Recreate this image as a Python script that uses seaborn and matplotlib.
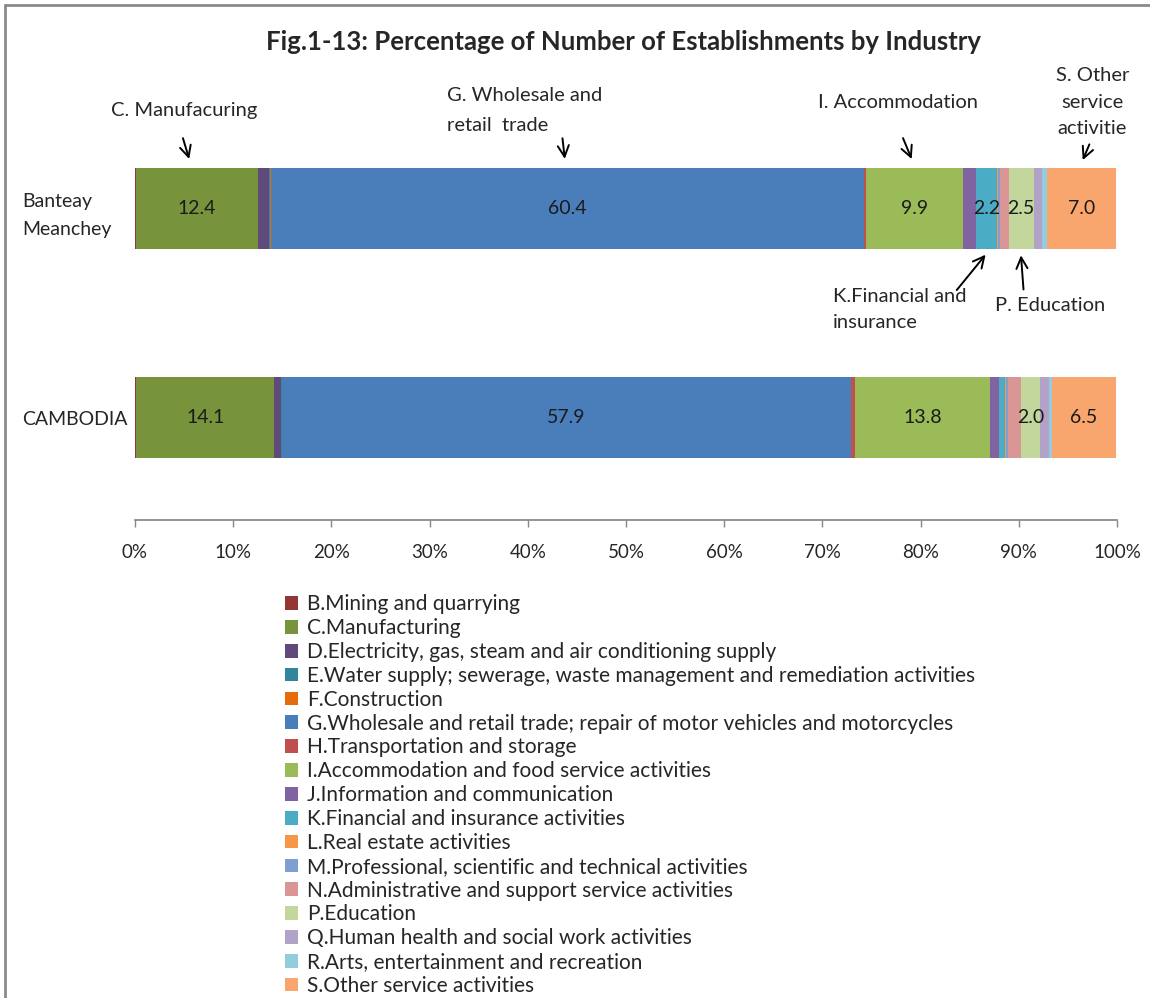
import matplotlib
matplotlib.use("Agg")
import matplotlib.pyplot as plt
import numpy as np
import seaborn as sns
from matplotlib.lines import Line2D

# data (percent of establishments)
regions = ["Banteay\nMeanchey", "CAMBODIA"]
industries = [
    "B.Mining and quarrying",
    "C.Manufacturing",
    "D.Electricity, gas, steam and air conditioning supply",
    "E.Water supply; sewerage, waste management and remediation activities",
    "F.Construction",
    "G.Wholesale and retail trade; repair of motor vehicles and motorcycles",
    "H.Transportation and storage",
    "I.Accommodation and food service activities",
    "J.Information and communication",
    "K.Financial and insurance activities",
    "L.Real estate activities",
    "M.Professional, scientific and technical activities",
    "N.Administrative and support service activities",
    "P.Education",
    "Q.Human health and social work activities",
    "R.Arts, entertainment and recreation",
    "S.Other service activities",
]
banteay = [0.1, 12.4, 1.1, 0.1, 0.1, 60.4, 0.2, 9.9, 1.3, 2.2, 0.1, 0.2, 0.9, 2.5, 0.9, 0.5, 7.0]
cambodia = [0.1, 14.1, 0.7, 0.05, 0.05, 57.9, 0.4, 13.8, 0.9, 0.6, 0.05, 0.25, 1.3, 2.0, 0.9, 0.3, 6.5]
# which segments carry a value label
shown = ["C", "G", "I", "K", "P", "S"]
shown_cambodia = ["C", "G", "I", "P", "S"]

colors = ["#943634", "#77933C", "#604A7B", "#31859C", "#E46C0A", "#4A7EBB",
          "#C0504D", "#9BBB59", "#8064A2", "#4BACC6", "#F79646", "#7F9ED2",
          "#D99694", "#C3D69B", "#B3A2C7", "#93CDDD", "#F9A66E"]

sns.set_theme(style="white")
plt.rcParams["font.family"] = ["Lato", "DejaVu Sans"]

fig = plt.figure(figsize=(11.5, 9.98), dpi=100)
ax = fig.add_axes([135 / 1150, 1 - 520 / 998, 982 / 1150, 420 / 998])

values = np.array([banteay, cambodia])
ypos = np.arange(len(regions))
left = np.zeros(len(regions))
for i, name in enumerate(industries):
    bars = ax.barh(ypos, values[:, i], left=left, height=0.39,
                   color=colors[i], label=name, linewidth=0)
    code = name[0]
    labels = [f"{values[0, i]:.1f}" if code in shown else "",
              f"{values[1, i]:.1f}" if code in shown_cambodia else ""]
    ax.bar_label(bars, labels=labels, label_type="center", fontsize=14,
                 color="#1a1a1a")
    left += values[:, i]

ax.set_xlim(0, 100)
ax.set_ylim(1.49, -0.52)
ax.set_xticks(np.arange(0, 101, 10))
ax.set_xticklabels([f"{t}%" for t in range(0, 101, 10)], fontsize=13.5)
ax.set_yticks(ypos)
ax.set_yticklabels(regions, fontsize=14)
for lab in ax.get_yticklabels():
    lab.set_horizontalalignment("left")
    lab.set_linespacing(1.75)
ax.tick_params(axis="y", length=0, pad=81)
ax.tick_params(axis="x", length=5, width=1, color="#868686", direction="out",
               bottom=True, pad=12)
sns.despine(ax=ax, left=True, top=True, right=True)
ax.spines["bottom"].set_color("#868686")

fig.suptitle("Fig.1-13: Percentage of Number of Establishments by Industry",
             x=0.542, y=0.97, fontsize=18.5, fontweight="bold")

arrow = dict(arrowstyle="->", color="black", lw=1.4, mutation_scale=20)
txt = dict(fontsize=14.5, va="center", annotation_clip=False)
ax.annotate("C. Manufacuring", xy=(5.0, -0.47), ha="center", **txt)
ax.annotate("G. Wholesale and\nretail  trade", xy=(31.8, -0.47), ha="left",
            linespacing=1.9, **txt)
ax.annotate("I. Accommodation", xy=(77.7, -0.51), ha="center", **txt)
ax.annotate("S. Other\nservice\nactivitie", xy=(97.5, -0.51), ha="center",
            linespacing=1.65, **txt)
ax.annotate("K.Financial and\ninsurance", xy=(71.1, 0.483), ha="left",
            linespacing=1.6, **txt)
ax.annotate("P. Education", xy=(87.6, 0.465), ha="left", **txt)

# arrows: (tail x, tail y) -> (head x, head y)
arrows = [((4.8, -0.35), (5.6, -0.225)),
          ((43.5, -0.35), (43.8, -0.225)),
          ((78.1, -0.35), (79.2, -0.225)),
          ((97.3, -0.32), (96.4, -0.22)),
          ((83.5, 0.40), (86.8, 0.21)),
          ((90.5, 0.40), (90.2, 0.21))]
for tail, head in arrows:
    ax.annotate("", xy=head, xytext=tail, arrowprops=arrow, annotation_clip=False)

handles, labs = ax.get_legend_handles_labels()
fig.legend(handles, labs, loc="upper left", bbox_to_anchor=(277 / 1150, 1 - 586 / 998),
           frameon=False, fontsize=15, handlelength=0.63, handleheight=0.63,
           handletextpad=0.4, labelspacing=0.185, borderaxespad=0)

# outer frame (top and left edge only visible)
fig.add_artist(Line2D([5 / 1150, 1], [1 - 5 / 998] * 2, transform=fig.transFigure,
                      color="#8a8a8a", lw=2))
fig.add_artist(Line2D([5 / 1150] * 2, [0, 1 - 5 / 998], transform=fig.transFigure,
                      color="#8a8a8a", lw=2))

fig.savefig("out.png", dpi=100, facecolor="white")
